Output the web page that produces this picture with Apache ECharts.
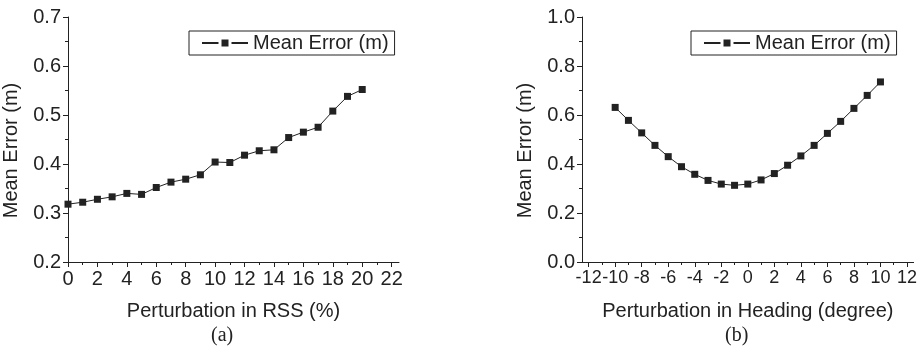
<!DOCTYPE html>
<html>
<head>
<meta charset="utf-8">
<script src="https://cdn.jsdelivr.net/npm/echarts@6/dist/echarts.min.js"></script>
<style>
  html, body { margin: 0; padding: 0; background: #fff; }
  #chart { width: 920px; height: 349px; }
</style>
</head>
<body>
<div id="chart"></div>
<script>
// (a) perturbation in RSS
const rssX = [0, 1, 2, 3, 4, 5, 6, 7, 8, 9, 10, 11, 12, 13, 14, 15, 16, 17, 18, 19, 20];
const rssErr = [0.318, 0.322, 0.328, 0.333, 0.340, 0.338, 0.352, 0.363, 0.369, 0.378, 0.404,
  0.403, 0.418, 0.427, 0.429, 0.454, 0.465, 0.475, 0.508, 0.538, 0.552];
const rssTicks = [0, 2, 4, 6, 8, 10, 12, 14, 16, 18, 20, 22];
const rssMinorTicks = [1, 3, 5, 7, 9, 11, 13, 15, 17, 19, 21];

// (b) perturbation in heading
const headX = [-10, -9, -8, -7, -6, -5, -4, -3, -2, -1, 0, 1, 2, 3, 4, 5, 6, 7, 8, 9, 10];
const headErr = [0.631, 0.578, 0.527, 0.476, 0.430, 0.389, 0.358, 0.333, 0.318, 0.313, 0.318,
  0.335, 0.361, 0.395, 0.433, 0.476, 0.525, 0.574, 0.627, 0.680, 0.735];
const headTicks = [-12, -10, -8, -6, -4, -2, 0, 2, 4, 6, 8, 10, 12];
const headMinorTicks = [-11, -9, -7, -5, -3, -1, 1, 3, 5, 7, 9, 11];

const seriesName = 'Mean Error (m)';
const font = "'Liberation Sans', Arial, sans-serif";
const ink = '#222';

const chart = echarts.init(document.getElementById('chart'));

function xAxes(gridIndex, min, max, ticks, minor, name, labelSize) {
  return [
    {
      type: 'value', gridIndex, min, max, position: 'bottom',
      name, nameLocation: 'middle', nameGap: 39,
      nameTextStyle: { color: ink, fontSize: 20, fontFamily: font },
      axisLine: { onZero: false, lineStyle: { color: ink, width: 1 } },
      axisTick: { inside: false, length: 5, customValues: ticks, lineStyle: { color: ink } },
      axisLabel: { customValues: ticks, interval: 0, color: ink, fontSize: labelSize, fontFamily: font,
        margin: 7, showMinLabel: true, showMaxLabel: true, hideOverlap: false },
      splitLine: { show: false }
    },
    {
      type: 'value', gridIndex, min, max, position: 'bottom',
      axisLine: { show: false, onZero: false },
      axisTick: { inside: false, length: 3, customValues: minor, lineStyle: { color: ink } },
      axisLabel: { show: false },
      splitLine: { show: false }
    }
  ];
}

function yAxis(gridIndex, min, max, interval) {
  return {
    type: 'value', gridIndex, min, max, interval,
    name: seriesName, nameLocation: 'middle', nameGap: 47,
    nameTextStyle: { color: ink, fontSize: 20, fontFamily: font, padding: [0, 22, 0, 0] },
    axisLine: { show: true, onZero: false, lineStyle: { color: ink, width: 1 } },
    axisTick: { show: true, inside: false, length: 5, lineStyle: { color: ink } },
    minorTick: { show: true, splitNumber: 2, length: 3, lineStyle: { color: ink } },
    axisLabel: { color: ink, fontSize: 20, fontFamily: font, margin: 7,
      formatter: v => v.toFixed(1) },
    splitLine: { show: false }
  };
}

function legend(left) {
  return {
    left, top: 31,
    data: [seriesName],
    orient: 'horizontal',
    padding: [2, 6, 2, 12],
    borderColor: ink, borderWidth: 1,
    itemWidth: 46, itemHeight: 12.5,
    itemStyle: { borderColor: '#fff', borderWidth: 3 },
    textStyle: { color: ink, fontSize: 20, fontFamily: font },
    selectedMode: false
  };
}

function lineSeries(x, y, xAxisIndex, yAxisIndex) {
  return {
    name: seriesName, type: 'line',
    xAxisIndex, yAxisIndex,
    data: x.map((v, i) => [v, y[i]]),
    symbol: 'rect', symbolSize: 7,
    lineStyle: { color: ink, width: 1 },
    itemStyle: { color: ink },
    animation: false
  };
}

const option = {
  animation: false,
  grid: [
    { left: 68, top: 17, width: 331, height: 245 },
    { left: 582, top: 17, width: 332, height: 245 }
  ],
  xAxis: [
    ...xAxes(0, 0, 22.5, rssTicks, rssMinorTicks, 'Perturbation in RSS (%)', 20),
    ...xAxes(1, -12.5, 12.5, headTicks, headMinorTicks, 'Perturbation in Heading (degree)', 18)
  ],
  yAxis: [yAxis(0, 0.2, 0.7, 0.1), yAxis(1, 0, 1, 0.2)],
  legend: [legend(189), legend(691)],
  series: [
    lineSeries(rssX, rssErr, 0, 0),
    lineSeries(headX, headErr, 2, 1)
  ],
  graphic: [
    { type: 'text', left: 211, top: 326,
      style: { text: '(a)', fill: ink, fontSize: 20, fontFamily: "'Liberation Serif', 'Times New Roman', serif" } },
    { type: 'text', left: 725, top: 326,
      style: { text: '(b)', fill: ink, fontSize: 20, fontFamily: "'Liberation Serif', 'Times New Roman', serif" } }
  ]
};

chart.setOption(option);
</script>
</body>
</html>
